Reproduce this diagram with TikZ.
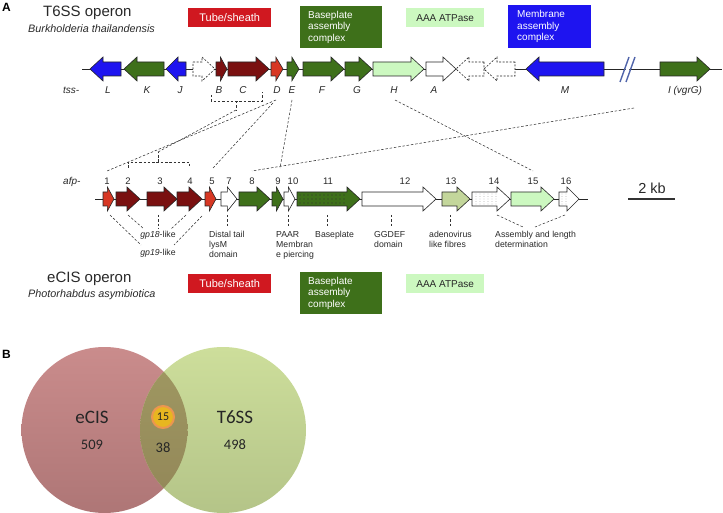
\documentclass[tikz,border=0pt]{standalone}
\usepackage{fontspec}
\setmainfont{Liberation Sans}
\newfontfamily\venfont{Carlito}
\definecolor{gblue}{RGB}{30,20,240}
\definecolor{ggreen}{RGB}{62,112,26}
\definecolor{gdred}{RGB}{122,16,16}
\definecolor{gred}{RGB}{215,55,35}
\definecolor{boxred}{RGB}{208,24,32}
\definecolor{glight}{RGB}{204,248,192}
\definecolor{golive}{RGB}{195,214,155}
\definecolor{txt}{RGB}{40,40,40}
\definecolor{vrtop}{RGB}{202,140,140}
\definecolor{vrbot}{RGB}{174,118,118}
\definecolor{vgtop}{RGB}{205,222,155}
\definecolor{vgbot}{RGB}{180,196,136}
\definecolor{votop}{RGB}{160,153,98}
\definecolor{vobot}{RGB}{146,134,88}
\definecolor{slash}{RGB}{80,100,170}
\newcommand{\geneR}[4][]{%
  \pgfmathsetmacro\geneHL{min(13,0.6*(#3-#2))}%
  \pgfmathsetmacro\geneHB{#3-\geneHL}%
  \draw[genestyle,#1] (#2,#4-7) -- (\geneHB,#4-7) -- (\geneHB,#4-12) -- (#3,#4) -- (\geneHB,#4+12) -- (\geneHB,#4+7) -- (#2,#4+7) -- cycle;}
\newcommand{\geneL}[4][]{%
  \pgfmathsetmacro\geneHL{min(13,0.6*(#3-#2))}%
  \pgfmathsetmacro\geneHB{#2+\geneHL}%
  \draw[genestyle,#1] (#3,#4-7) -- (\geneHB,#4-7) -- (\geneHB,#4-12) -- (#2,#4) -- (\geneHB,#4+12) -- (\geneHB,#4+7) -- (#3,#4+7) -- cycle;}
\tikzset{
  genestyle/.style={draw=black!85, line width=0.6pt, line join=miter},
  dashgene/.style={fill=white, dash pattern=on 2pt off 1.5pt},
  conn/.style={draw=black!80, line width=0.55pt, dash pattern=on 2.5pt off 1.8pt},
  glabel/.style={font=\fontsize{10}{12}\selectfont\itshape, text=txt, inner sep=0pt, anchor=base},
  numlabel/.style={font=\fontsize{9.5}{12}\selectfont, text=txt, inner sep=0pt, anchor=base},
  smalltext/.style={font=\fontsize{8.7}{10}\selectfont, text=txt, align=left, anchor=north west, inner sep=0pt},
  title/.style={font=\fontsize{15}{18}\selectfont, text=txt, inner sep=0pt, anchor=base west},
  species/.style={font=\fontsize{10.8}{13}\selectfont\itshape, text=txt, inner sep=0pt, anchor=base west},
  panel/.style={font=\fontsize{12}{14}\selectfont\bfseries, inner sep=0pt, anchor=base west},
  legsmall/.style={anchor=north west, inner sep=0pt, minimum width=83pt, minimum height=19pt},
  legbig/.style={anchor=north west, inner xsep=8pt, inner ysep=0pt, text width=66pt, align=left, minimum height=42pt, font=\fontsize{10}{11.5}\selectfont, text=white},
  venntxt/.style={font=\venfont\fontsize{14.5}{16}\selectfont, text=black!85, inner sep=0pt},
}
\begin{document}
\begin{tikzpicture}[x=1pt,y=-1pt]
\useasboundingbox (0,0) rectangle (723,513);

% ---------------- Panel A titles
\node[panel] (pA) at (2,12) {A};
\node[title] (t6title) at (43,17) {T6SS operon};
\node[species] (t6sp) at (28,33) {Burkholderia thailandensis};

% legend boxes top
\node[legsmall, fill=boxred, text=white, font=\fontsize{11}{13}\selectfont] (legTube) at (188,8) {Tube/sheath};
\node[legbig, fill=ggreen] (legBase) at (300,6) {Baseplate\\assembly\\complex};
\node[legsmall, minimum width=78pt, fill=glight, text=txt, font=\fontsize{10}{12}\selectfont] (legAAA) at (406,8) {AAA ATPase};
\node[legbig, fill=gblue, inner xsep=9pt, text width=65pt, minimum height=43pt] (legMem) at (508,5) {Membrane\\assembly\\complex};

% ---------------- top operon
\draw[line width=0.6pt, black!85] (82,69) -- (722,69);
\geneL[fill=gblue]{90}{121}{69}
\geneL[fill=ggreen]{124}{164}{69}
\geneL[fill=gblue]{166}{186}{69}
\geneR[dashgene]{193}{215}{69}
\geneR[fill=gdred]{216}{227}{69}
\geneR[fill=gdred]{228}{269}{69}
\geneR[fill=gred]{271}{283}{69}
\geneR[fill=ggreen]{287}{299}{69}
\geneR[fill=ggreen]{303}{344}{69}
\geneR[fill=ggreen]{345}{372}{69}
\geneR[fill=glight]{373}{424}{69}
\geneR[fill=white]{426}{456}{69}
\geneL[dashgene]{456}{484}{69}
\geneL[dashgene]{484}{515}{69}
\geneL[fill=gblue]{526}{604}{69}
\draw[white, line width=3.2pt] (632,57) -- (623,82);
\draw[slash, line width=1.4pt] (629,57) -- (620,82);
\draw[slash, line width=1.4pt] (635,57) -- (626,82);
\geneR[fill=ggreen]{660}{710}{69}

% top labels
\node[glabel, anchor=base west] (tss) at (63,94) {tss-};
\node[glabel] (lL) at (108,94) {L};
\node[glabel] (lK) at (147,94) {K};
\node[glabel] (lJ) at (180,94) {J};
\node[glabel] (lB) at (219,94) {B};
\node[glabel] (lC) at (243,94) {C};
\node[glabel] (lD) at (277,94) {D};
\node[glabel] (lE) at (292,94) {E};
\node[glabel] (lF) at (322,94) {F};
\node[glabel] (lG) at (357,94) {G};
\node[glabel] (lH) at (394,94) {H};
\node[glabel] (lA) at (434,94) {A};
\node[glabel] (lM) at (565,94) {M};
\node[glabel] (lI) at (685,94) {I (vgrG)};

% ---------------- middle operon
\draw[line width=0.6pt, black!85] (95,199) -- (588,199);
\geneR[fill=gred]{103}{114}{199}
\geneR[fill=gdred]{116}{140}{199}
\geneR[fill=gdred]{147}{177}{199}
\geneR[fill=gdred]{177}{202}{199}
\geneR[fill=gred]{205}{216}{199}
\geneR[fill=white]{221}{237}{199}
\geneR[fill=ggreen]{239}{270}{199}
\geneR[fill=ggreen]{272}{283}{199}
\geneR[fill=white]{284}{295}{199}
\geneR[fill=ggreen]{297}{360}{199}
\foreach \dx in {300,304,...,344} \foreach \dy in {195,199,203} \fill[black!80] (\dx,\dy) circle (0.6pt);
\geneR[fill=white]{362}{436}{199}
\geneR[fill=golive]{442}{470}{199}
\geneR[fill=white]{472}{510}{199}
\foreach \dx in {476,480,...,496} \foreach \dy in {194,196.5,...,205} \fill[black!45] (\dx,\dy) circle (0.45pt);
\geneR[fill=glight]{511}{554}{199}
\geneR[fill=white]{559}{579}{199}
\foreach \dx in {562,566} \foreach \dy in {194,196.5,...,205} \fill[black!45] (\dx,\dy) circle (0.45pt);

\node[glabel, anchor=base west] (afp) at (63,185) {afp-};
\node[numlabel] (n1) at (107,185) {1};
\node[numlabel] (n2) at (128,185) {2};
\node[numlabel] (n3) at (160,185) {3};
\node[numlabel] (n4) at (190,185) {4};
\node[numlabel] (n5) at (212,185) {5};
\node[numlabel] (n7) at (229,185) {7};
\node[numlabel] (n8) at (252,185) {8};
\node[numlabel] (n9) at (278,185) {9};
\node[numlabel] (n10) at (293,185) {10};
\node[numlabel] (n11) at (328,185) {11};
\node[numlabel] (n12) at (405,185) {12};
\node[numlabel] (n13) at (451,185) {13};
\node[numlabel] (n14) at (494,185) {14};
\node[numlabel] (n15) at (533,185) {15};
\node[numlabel] (n16) at (566,185) {16};

% scale bar
\node[font=\fontsize{14.5}{16}\selectfont, text=txt, inner sep=0pt, anchor=base] (kb) at (652,194) {2 kb};
\coordinate (sbL) at (628,199);
\coordinate (sbR) at (675,199);
\draw[line width=1.3pt, black!80] (sbL) -- (sbR);

% ---------------- connectors between operons
\coordinate (bcA) at (211,95);
\coordinate (bcB) at (211,101);
\coordinate (bcC) at (262,101);
\coordinate (bcD) at (262,92);
\coordinate (bcM) at (236,101);
\coordinate (bcN) at (236,110);
\draw[conn] (bcA) -- (bcB) -- (bcC) -- (bcD);
\draw[conn] (bcM) -- (bcN);
\coordinate (brA) at (128,168);
\coordinate (brB) at (128,162);
\coordinate (brC) at (189,162);
\coordinate (brD) at (189,168);
\coordinate (brM) at (158,162);
\coordinate (brN) at (158,152);
\draw[conn] (brA) -- (brB) -- (brC) -- (brD);
\draw[conn] (brM) -- (brN);
\draw[conn] (bcN) -- (brN);
\coordinate (dA) at (276,100);
\coordinate (dB) at (273,103);
\coordinate (eA) at (292,100);
\coordinate (hA) at (395,100);
\coordinate (iA) at (634,108);
\coordinate (t1) at (107,171);
\coordinate (t5) at (213,168);
\coordinate (t9) at (280,168);
\coordinate (t8) at (252,171);
\coordinate (t15) at (533,171);
\draw[conn] (dA) -- (t1);
\draw[conn] (dB) -- (t5);
\draw[conn] (eA) -- (t9);
\draw[conn] (hA) -- (t15);
\draw[conn] (iA) -- (t8);

% ---------------- annotations below middle operon
\node[smalltext] (dist) at (209,231) {Distal tail\\lysM\\domain};
\node[smalltext] (paar) at (276,231) {PAAR\\Membran\\e piercing};
\node[smalltext] (bplate) at (315,231) {Baseplate};
\node[smalltext] (ggdef) at (374,231) {GGDEF\\domain};
\node[smalltext] (adeno) at (429,231) {adenovirus\\like fibres};
\node[smalltext] (assem) at (495,231) {Assembly and length\\determination};
\node[font=\fontsize{8.7}{10}\selectfont, text=txt, inner sep=0pt, anchor=base] (gp18) at (158,237) {\textit{gp18}-like};
\node[font=\fontsize{8.7}{10}\selectfont, text=txt, inner sep=0pt, anchor=base] (gp19) at (158,255) {\textit{gp19}-like};

\coordinate (k7a) at (227,215); \coordinate (k7b) at (227,227);
\coordinate (k10a) at (288,215); \coordinate (k10b) at (288,227);
\coordinate (k11a) at (327,215); \coordinate (k11b) at (327,227);
\coordinate (k12a) at (391,215); \coordinate (k12b) at (391,227);
\coordinate (k13a) at (450,215); \coordinate (k13b) at (450,227);
\draw[conn] (k7a) -- (k7b);
\draw[conn] (k10a) -- (k10b);
\draw[conn] (k11a) -- (k11b);
\draw[conn] (k12a) -- (k12b);
\draw[conn] (k13a) -- (k13b);
\coordinate (as1) at (497,215); \coordinate (as2) at (523,227);
\coordinate (as3) at (565,215); \coordinate (as4) at (535,227);
\draw[conn] (as1) -- (as2);
\draw[conn] (as3) -- (as4);
\coordinate (g18a) at (128,215); \coordinate (g18b) at (144,229);
\coordinate (g18c) at (158,215); \coordinate (g18d) at (158,228);
\coordinate (g18e) at (186,215); \coordinate (g18f) at (171,229);
\draw[conn] (g18a) -- (g18b);
\draw[conn] (g18c) -- (g18d);
\draw[conn] (g18e) -- (g18f);
\coordinate (g19a) at (110,215); \coordinate (g19b) at (141,245);
\coordinate (g19c) at (202,216); \coordinate (g19d) at (174,245);
\draw[conn] (g19a) -- (g19b);
\draw[conn] (g19c) -- (g19d);

% ---------------- eCIS titles and legend
\node[title] (ectitle) at (47,283) {eCIS operon};
\node[species] (ecsp) at (28,297) {Photorhabdus asymbiotica};
\node[legsmall, fill=boxred, text=white, font=\fontsize{11}{13}\selectfont] (legTube2) at (188,274) {Tube/sheath};
\node[legbig, fill=ggreen] (legBase2) at (300,272) {Baseplate\\assembly\\complex};
\node[legsmall, minimum width=78pt, fill=glight, text=txt, font=\fontsize{10}{12}\selectfont] (legAAA2) at (406,274) {AAA ATPase};

% ---------------- Panel B Venn
\node[panel] (pB) at (2,358) {B};
\shade[top color=vrtop, bottom color=vrbot] (104.5,430) circle (83pt);
\shade[top color=vgtop, bottom color=vgbot] (223,430) circle (83pt);
\begin{scope}
  \clip (104.5,430) circle (83pt);
  \shade[top color=votop, bottom color=vobot] (223,430) circle (83pt);
\end{scope}
\node[venntxt, font=\venfont\fontsize{19}{22}\selectfont] (ecis) at (92,417) {eCIS};
\node[venntxt] (n509) at (92,445) {509};
\node[venntxt, font=\venfont\fontsize{19}{22}\selectfont] (t6ss) at (235,417) {T6SS};
\node[venntxt] (n498) at (235,445) {498};
\node[circle, fill={rgb,255:red,232;green,182;blue,32}, draw={rgb,255:red,236;green,150;blue,80}, line width=2pt, minimum size=22pt, inner sep=0pt, font=\venfont\fontsize{12}{14}\selectfont, text=black!85] (c15) at (163,417) {15};
\node[venntxt] (n38) at (163,448) {38};
\end{tikzpicture}
\end{document}
